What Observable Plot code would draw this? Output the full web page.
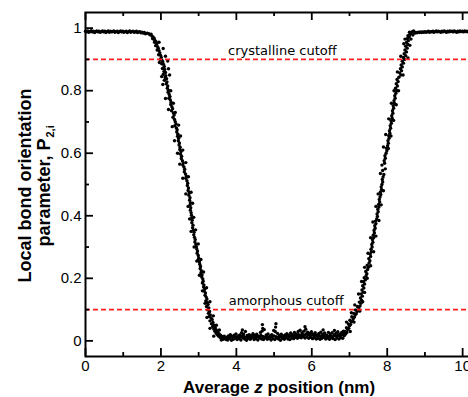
<!DOCTYPE html>
<html>
<head>
<meta charset="utf-8">
<script src="https://cdn.jsdelivr.net/npm/d3@7"></script>
<script src="https://cdn.jsdelivr.net/npm/@observablehq/plot@0.6"></script>
<style>
html, body { margin: 0; padding: 0; overflow: hidden; background: white; }
</style>
</head>
<body>
<div id="chart"></div>
<script>
// ---- data: average z position (nm) vs local bond orientation parameter P2,i ----
const crystalLeft = [
  [0.00,0.990],[0.03,0.988],[0.06,0.991],[0.09,0.987],[0.12,0.989],[0.15,0.992],[0.18,0.988],[0.21,0.990],
  [0.24,0.986],[0.27,0.989],[0.30,0.991],[0.33,0.988],[0.36,0.990],[0.39,0.987],[0.42,0.989],[0.45,0.991],
  [0.48,0.988],[0.51,0.990],[0.54,0.986],[0.57,0.989],[0.60,0.991],[0.63,0.987],[0.66,0.990],[0.69,0.988],
  [0.72,0.989],[0.75,0.991],[0.78,0.987],[0.81,0.989],[0.84,0.990],[0.87,0.986],[0.90,0.989],[0.93,0.991],
  [0.96,0.988],[0.99,0.990],[1.02,0.987],[1.05,0.989],[1.08,0.990],[1.11,0.986],[1.14,0.989],[1.17,0.991],
  [1.20,0.987],[1.23,0.989],[1.26,0.990],[1.29,0.987],[1.32,0.988],[1.35,0.990],[1.38,0.986],[1.41,0.988],
  [1.44,0.989],[1.47,0.985],[1.50,0.987],[1.53,0.984],[1.56,0.986],[1.59,0.982]
];
const interfaceLeft = [
  [1.64,0.984],[1.68,0.982],[1.71,0.979],[1.74,0.981],[1.76,0.975],[1.79,0.972],[1.78,0.966],[1.82,0.968],
  [1.84,0.961],[1.83,0.955],[1.87,0.957],[1.89,0.950],[1.86,0.944],[1.91,0.941],[1.93,0.936],[1.90,0.930],
  [1.95,0.928],[1.97,0.921],[1.94,0.915],[1.99,0.913],[2.01,0.906],[1.98,0.900],[2.03,0.897],[2.05,0.892],
  [2.02,0.886],[2.07,0.884],[2.09,0.877],[2.04,0.871],[2.10,0.868],[2.08,0.861],[2.12,0.858],[2.06,0.852],
  [2.13,0.848],[2.11,0.842],[2.15,0.838],[2.09,0.833],[2.16,0.828],[2.14,0.822],[2.18,0.815],[2.17,0.808],
  [2.20,0.801],[2.19,0.795],[2.22,0.788],[2.24,0.781],[2.21,0.776],[2.25,0.770],[2.27,0.763],[2.26,0.756],
  [2.29,0.749],[2.31,0.742],[2.28,0.736],[2.33,0.729],[2.35,0.722],[2.32,0.715],[2.36,0.708],[2.38,0.701],
  [2.40,0.694],[2.37,0.688],[2.41,0.681],[2.43,0.675],[2.42,0.668],[2.45,0.661],[2.44,0.654],[2.47,0.648],
  [2.46,0.640],[2.49,0.633],[2.48,0.626],[2.51,0.619],[2.50,0.612],[2.53,0.605],[2.52,0.597],[2.55,0.590],
  [2.54,0.583],[2.57,0.576],[2.59,0.569],[2.58,0.562],[2.61,0.556],[2.63,0.549],[2.62,0.541],[2.65,0.534],
  [2.67,0.527],[2.66,0.520],[2.69,0.512],[2.71,0.504],[2.70,0.497],[2.73,0.489],[2.72,0.481],[2.75,0.474],
  [2.74,0.466],[2.77,0.458],[2.76,0.450],[2.78,0.442],[2.77,0.434],[2.79,0.426],[2.78,0.418],[2.80,0.410],
  [2.81,0.402],[2.82,0.394],[2.83,0.386],[2.82,0.378],[2.85,0.370],[2.84,0.362],[2.86,0.354],[2.88,0.347],
  [2.87,0.339],[2.89,0.331],[2.91,0.324],[2.90,0.316],[2.93,0.309],[2.94,0.301],[2.95,0.294],[2.97,0.287],
  [2.96,0.280],[2.99,0.273],[3.00,0.265],[2.98,0.258],[3.02,0.252],[3.03,0.245],[3.05,0.238],[3.04,0.231],
  [3.07,0.224],[3.06,0.217],[3.09,0.211],[3.08,0.204],[3.11,0.198],[3.12,0.191],[3.10,0.185],[3.14,0.179],
  [3.13,0.172],[3.16,0.166],[3.15,0.159],[3.18,0.153],[3.17,0.146],[3.20,0.140],[3.22,0.134],[3.19,0.128],
  [3.23,0.122],[3.25,0.116],[3.21,0.110],[3.27,0.105],[3.24,0.099],[3.29,0.094],[3.26,0.088],[3.31,0.083],
  [3.28,0.078],[3.33,0.073],[3.36,0.068],[3.30,0.064],[3.38,0.059],[3.34,0.055],[3.41,0.050],[3.37,0.046],
  [3.44,0.042],[3.40,0.038],[3.47,0.035],[3.43,0.031],[3.51,0.029],[3.46,0.025],[3.54,0.023],[3.49,0.020],
  [3.58,0.018],[3.53,0.015],[3.62,0.014],[3.57,0.011],[3.66,0.010],[3.61,0.008],[3.70,0.007],[3.65,0.005],
  [3.74,0.004]
];
const interfaceLeftScatter = [
  [1.95,0.955],[2.06,0.935],[2.12,0.910],[1.96,0.890],[2.18,0.895],[2.20,0.870],[2.02,0.845],[2.23,0.850],
  [2.05,0.820],[2.26,0.800],[2.12,0.775],[2.33,0.760],[2.20,0.740],[2.38,0.730],[2.30,0.685],[2.47,0.690],
  [2.36,0.640],[2.52,0.655],[2.44,0.600],[2.58,0.610],[2.50,0.565],[2.66,0.570],[2.58,0.520],[2.73,0.525],
  [2.66,0.470],[2.80,0.475],[2.72,0.430],[2.84,0.440],[2.76,0.390],[2.87,0.395],[2.80,0.350],[2.92,0.355],
  [2.88,0.300],[2.99,0.310],[2.95,0.255],[3.06,0.260],[3.02,0.210],[3.13,0.220],[3.10,0.160],[3.21,0.170],
  [3.17,0.120],[3.30,0.125],[3.22,0.075],[3.39,0.080],[3.30,0.040],[3.47,0.050],[3.40,0.015],[3.55,0.035],
  [3.60,0.003],[3.68,0.015]
];
const amorphousLow = [
  [3.72,0.006],[3.77,0.003],[3.82,0.008],[3.87,0.002],[3.92,0.005],[3.97,0.009],[4.02,0.004],[4.07,0.007],
  [4.12,0.003],[4.17,0.010],[4.22,0.006],[4.27,0.002],[4.32,0.008],[4.37,0.005],[4.42,0.011],[4.47,0.004],
  [4.52,0.007],[4.57,0.003],[4.62,0.009],[4.67,0.006],[4.72,0.004],[4.77,0.010],[4.82,0.005],[4.87,0.008],
  [4.92,0.003],[4.97,0.007],[5.02,0.004],[5.07,0.009],[5.12,0.006],[5.17,0.002],[5.22,0.008],[5.27,0.005],
  [5.32,0.010],[5.37,0.006],[5.42,0.004],[5.47,0.009],[5.52,0.007],[5.57,0.011],[5.62,0.008],[5.67,0.012],
  [5.72,0.010],[5.77,0.013],[5.82,0.009],[5.87,0.012],[5.92,0.008],[5.97,0.011],[6.02,0.007],[6.07,0.010],
  [6.12,0.006],[6.17,0.009],[6.22,0.005],[6.27,0.008],[6.32,0.011],[6.37,0.006],[6.42,0.009],[6.47,0.005],
  [6.52,0.010],[6.57,0.007],[6.62,0.004],[6.67,0.009],[6.72,0.006],[6.77,0.010],[6.82,0.008]
];
const amorphousMid = [
  [3.75,0.012],[3.80,0.010],[3.85,0.014],[3.90,0.011],[3.95,0.013],[4.00,0.010],[4.05,0.015],[4.10,0.012],
  [4.15,0.016],[4.20,0.013],[4.25,0.011],[4.30,0.014],[4.35,0.012],[4.40,0.016],[4.45,0.013],[4.50,0.011],
  [4.55,0.014],[4.60,0.012],[4.65,0.017],[4.70,0.014],[4.75,0.012],[4.80,0.015],[4.85,0.011],[4.90,0.014],
  [4.95,0.012],[5.00,0.016],[5.05,0.013],[5.10,0.011],[5.15,0.014],[5.20,0.012],[5.25,0.015],[5.30,0.013],
  [5.35,0.016],[5.40,0.014],[5.45,0.017],[5.50,0.015],[5.55,0.018],[5.60,0.016],[5.65,0.020],[5.70,0.017],
  [5.75,0.021],[5.80,0.018],[5.85,0.022],[5.90,0.019],[5.95,0.017],[6.00,0.020],[6.05,0.016],[6.10,0.018],
  [6.15,0.015],[6.20,0.017],[6.25,0.014],[6.30,0.018],[6.35,0.015],[6.40,0.017],[6.45,0.014],[6.50,0.016],
  [6.55,0.013],[6.60,0.017],[6.65,0.015],[6.70,0.018],[6.75,0.016],[6.80,0.019],[6.85,0.021]
];
const amorphousHigh = [
  [3.79,0.016],[3.84,0.020],[3.89,0.014],[3.94,0.018],[3.99,0.022],[4.04,0.015],[4.09,0.019],[4.14,0.026],
  [4.19,0.021],[4.24,0.030],[4.29,0.017],[4.34,0.020],[4.39,0.016],[4.44,0.023],[4.49,0.018],[4.54,0.021],
  [4.59,0.015],[4.64,0.027],[4.69,0.052],[4.74,0.036],[4.79,0.019],[4.84,0.022],[4.89,0.016],[4.94,0.020],
  [4.99,0.033],[5.04,0.044],[5.09,0.024],[5.14,0.017],[5.19,0.021],[5.24,0.015],[5.29,0.019],[5.34,0.023],
  [5.39,0.018],[5.44,0.025],[5.49,0.020],[5.54,0.027],[5.59,0.022],[5.64,0.030],[5.69,0.034],[5.74,0.026],
  [5.79,0.031],[5.84,0.037],[5.89,0.028],[5.94,0.024],[5.99,0.029],[6.04,0.021],[6.09,0.026],[6.14,0.019],
  [6.19,0.024],[6.24,0.028],[6.29,0.021],[6.34,0.025],[6.39,0.018],[6.44,0.027],[6.49,0.022],[6.54,0.026],
  [6.59,0.019],[6.64,0.024],[6.69,0.029],[6.74,0.021],[6.79,0.027],[6.84,0.031],
  [4.70,0.040],[4.68,0.031],[5.03,0.030],[5.05,0.055],[4.16,0.035],[5.82,0.045],[6.30,0.035],[6.60,0.033]
];
const interfaceRight = [
  [6.86,0.016],[6.90,0.022],[6.88,0.030],[6.93,0.027],[6.95,0.036],[6.92,0.042],[6.98,0.040],[7.00,0.048],
  [6.97,0.054],[7.03,0.052],[7.05,0.060],[7.01,0.066],[7.08,0.064],[7.10,0.071],[7.06,0.077],[7.13,0.076],
  [7.15,0.083],[7.11,0.088],[7.18,0.087],[7.20,0.094],[7.16,0.099],[7.23,0.098],[7.25,0.106],[7.21,0.110],
  [7.28,0.112],[7.30,0.120],[7.26,0.124],[7.32,0.130],[7.29,0.137],[7.34,0.143],[7.31,0.150],[7.36,0.156],
  [7.33,0.163],[7.38,0.169],[7.35,0.176],[7.40,0.182],[7.37,0.189],[7.42,0.195],[7.39,0.202],[7.44,0.208],
  [7.46,0.215],[7.43,0.222],[7.48,0.228],[7.50,0.235],[7.47,0.242],[7.52,0.249],[7.54,0.256],[7.51,0.263],
  [7.56,0.270],[7.55,0.278],[7.58,0.285],[7.57,0.293],[7.60,0.300],[7.59,0.308],[7.62,0.315],[7.61,0.323],
  [7.64,0.330],[7.63,0.338],[7.66,0.345],[7.65,0.353],[7.68,0.360],[7.67,0.368],[7.70,0.375],[7.69,0.383],
  [7.72,0.390],[7.74,0.398],[7.73,0.406],[7.76,0.413],[7.75,0.421],[7.78,0.428],[7.77,0.436],[7.80,0.444],
  [7.79,0.452],[7.81,0.460],[7.83,0.468],[7.82,0.476],[7.85,0.484],[7.84,0.492],[7.86,0.500],[7.88,0.508],
  [7.87,0.516],[7.89,0.524],[7.91,0.532],[7.88,0.545],[7.86,0.562],[7.93,0.568],[7.92,0.576],[7.95,0.584],
  [7.94,0.592],[7.97,0.600],[7.99,0.608],[7.98,0.616],[8.01,0.624],[8.03,0.632],[8.02,0.640],[8.05,0.648],
  [8.04,0.656],[8.07,0.664],[8.06,0.672],[8.09,0.680],[8.08,0.688],[8.11,0.696],[8.10,0.704],[8.13,0.712],
  [8.12,0.720],[8.15,0.728],[8.14,0.736],[8.17,0.744],[8.16,0.752],[8.19,0.760],[8.18,0.768],[8.21,0.776],
  [8.20,0.784],[8.23,0.792],[8.25,0.800],[8.22,0.808],[8.27,0.815],[8.24,0.822],[8.29,0.829],[8.26,0.836],
  [8.31,0.843],[8.36,0.850],[8.33,0.857],[8.38,0.864],[8.35,0.870],[8.40,0.876],[8.37,0.882],[8.43,0.888],
  [8.40,0.894],[8.46,0.900],[8.43,0.906],[8.49,0.912],[8.45,0.918],[8.51,0.924],[8.47,0.930],[8.53,0.936],
  [8.49,0.942],[8.55,0.948],[8.51,0.954],[8.56,0.960],[8.53,0.966],[8.58,0.971],[8.55,0.976],[8.60,0.980],
  [8.63,0.984],[8.59,0.987],[8.66,0.989],[8.70,0.991]
];
const interfaceRightScatter = [
  [6.84,0.025],[7.02,0.030],[6.92,0.060],[7.12,0.060],[7.05,0.090],[7.27,0.095],[7.14,0.115],[7.35,0.125],
  [7.24,0.150],[7.40,0.155],[7.32,0.190],[7.47,0.200],[7.40,0.235],[7.56,0.240],[7.49,0.280],[7.64,0.285],
  [7.56,0.330],[7.70,0.335],[7.62,0.380],[7.78,0.385],[7.70,0.430],[7.84,0.435],[7.76,0.470],[7.90,0.480],
  [7.82,0.535],[7.95,0.550],[7.90,0.620],[8.03,0.615],[7.96,0.660],[8.10,0.655],[8.04,0.710],[8.17,0.705],
  [8.11,0.760],[8.24,0.755],[8.18,0.800],[8.30,0.800],[8.27,0.860],[8.42,0.850],[8.36,0.910],[8.55,0.905],
  [8.44,0.950],[8.60,0.945],[8.47,0.965],[8.63,0.965],[8.68,0.978],[8.58,0.975]
];
const crystalRight = [
  [8.73,0.984],[8.76,0.986],[8.79,0.985],[8.82,0.987],[8.85,0.986],[8.88,0.988],[8.91,0.986],[8.94,0.988],
  [8.97,0.987],[9.00,0.989],[9.03,0.987],[9.06,0.988],[9.09,0.990],[9.12,0.987],[9.15,0.989],[9.18,0.988],
  [9.21,0.990],[9.24,0.987],[9.27,0.989],[9.30,0.991],[9.33,0.988],[9.36,0.990],[9.39,0.989],[9.42,0.987],
  [9.45,0.990],[9.48,0.988],[9.51,0.991],[9.54,0.989],[9.57,0.987],[9.60,0.990],[9.63,0.988],[9.66,0.991],
  [9.69,0.989],[9.72,0.990],[9.75,0.988],[9.78,0.991],[9.81,0.989],[9.84,0.987],[9.87,0.990],[9.90,0.988],
  [9.93,0.991],[9.96,0.989],[9.99,0.990],[10.02,0.988],[10.05,0.991],[10.08,0.989],[10.11,0.990],[10.14,0.988],
  [10.17,0.991],[10.20,0.989],[10.23,0.990],[10.26,0.988],[10.29,0.991],[10.32,0.989],[10.35,0.990],[10.38,0.988],
  [10.41,0.990],[10.44,0.989],[10.47,0.991]
];
const cutoffValues = [0.9, 0.1];
const cutoffNames = ["crystalline cutoff", "amorphous cutoff"];
const xMajorTicks = [0, 2, 4, 6, 8, 10];
const xMinorTicks = [1, 3, 5, 7, 9];
const yMajorTicks = [0, 0.2, 0.4, 0.6, 0.8, 1];
const yMinorTicks = [0.1, 0.3, 0.5, 0.7, 0.9];

const points = [
  ...crystalLeft, ...interfaceLeft, ...interfaceLeftScatter,
  ...amorphousLow, ...amorphousMid, ...amorphousHigh,
  ...interfaceRight, ...interfaceRightScatter, ...crystalRight
].map(([x, y]) => ({x, y}));
const cutoffs = cutoffValues.map((v, i) => ({v, name: cutoffNames[i]}));

// layout
const W = 482, H = 397, ML = 85, MR = 1, MT = 12, MB = 41;
const frameW = W - ML - MR, frameH = H - MT - MB;
const major = 8, minor = 4;

const bold = {fontWeight: "bold", fill: "black"};
const tickStyle = {stroke: "black", strokeWidth: 1.8};
const fmt = d3.format("");

const chart = Plot.plot({
  width: W,
  height: H,
  marginLeft: ML,
  marginRight: MR,
  marginTop: MT,
  marginBottom: MB,
  style: {fontFamily: "'Liberation Sans', Arial, Helvetica, sans-serif", fontSize: "15px", color: "black", background: "white", maxWidth: "none"},
  x: {domain: [0, 10.5]},
  y: {domain: [-0.05, 1.05]},
  marks: [
    Plot.dot(points, {x: "x", y: "y", r: 1.7, fill: "black", stroke: "none"}),
    Plot.ruleY(cutoffs, {y: "v", stroke: "#ff1e1e", strokeWidth: 1.6, strokeDasharray: "5,3"}),
    Plot.text(cutoffs, {x: [5.22, 5.32], y: "v", text: "name", dy: -9, fontFamily: "'DejaVu Sans', sans-serif", fontSize: 13, fill: "black"}),
    Plot.frame({stroke: "black", strokeWidth: 2}),
    // inward ticks: bottom, top, left
    Plot.ruleX(xMajorTicks, {insetTop: frameH - major, ...tickStyle}),
    Plot.ruleX(xMinorTicks, {insetTop: frameH - minor, ...tickStyle}),
    Plot.ruleX(xMajorTicks, {insetBottom: frameH - major, ...tickStyle}),
    Plot.ruleX(xMinorTicks, {insetBottom: frameH - minor, ...tickStyle}),
    Plot.ruleY(yMajorTicks, {insetRight: frameW - major, ...tickStyle}),
    Plot.ruleY(yMinorTicks, {insetRight: frameW - minor, ...tickStyle}),
    // tick labels
    Plot.axisX({anchor: "bottom", ticks: xMajorTicks, tickSize: 0, tickPadding: 4, tickFormat: fmt, label: null, fontSize: 15}),
    Plot.axisY({anchor: "left", ticks: yMajorTicks, tickSize: 0, tickPadding: 4, tickFormat: fmt, label: null, fontSize: 15}),
    // x-axis title
    Plot.text(["Average"], {frameAnchor: "bottom", textAnchor: "end", lineAnchor: "middle", dx: -34, dy: 30.6, fontSize: 17, ...bold}),
    Plot.text(["z"], {frameAnchor: "bottom", textAnchor: "middle", lineAnchor: "middle", dx: -25, dy: 30.6, fontSize: 17, fontStyle: "italic", ...bold}),
    Plot.text(["position (nm)"], {frameAnchor: "bottom", textAnchor: "start", lineAnchor: "middle", dx: -16, dy: 30.6, fontSize: 17, ...bold}),
    // y-axis title
    Plot.text(["Local bond orientation"], {frameAnchor: "left", rotate: -90, textAnchor: "middle", lineAnchor: "middle", dx: -60, dy: 1, fontSize: 18, ...bold}),
    Plot.text(["parameter, P"], {frameAnchor: "left", rotate: -90, textAnchor: "end", lineAnchor: "middle", dx: -41, dy: -46, fontSize: 18, ...bold}),
    Plot.text(["2,i"], {frameAnchor: "left", rotate: -90, textAnchor: "start", lineAnchor: "middle", dx: -35, dy: -47, fontSize: 11, ...bold})
  ]
});
document.getElementById("chart").append(chart);
</script>
</body>
</html>
